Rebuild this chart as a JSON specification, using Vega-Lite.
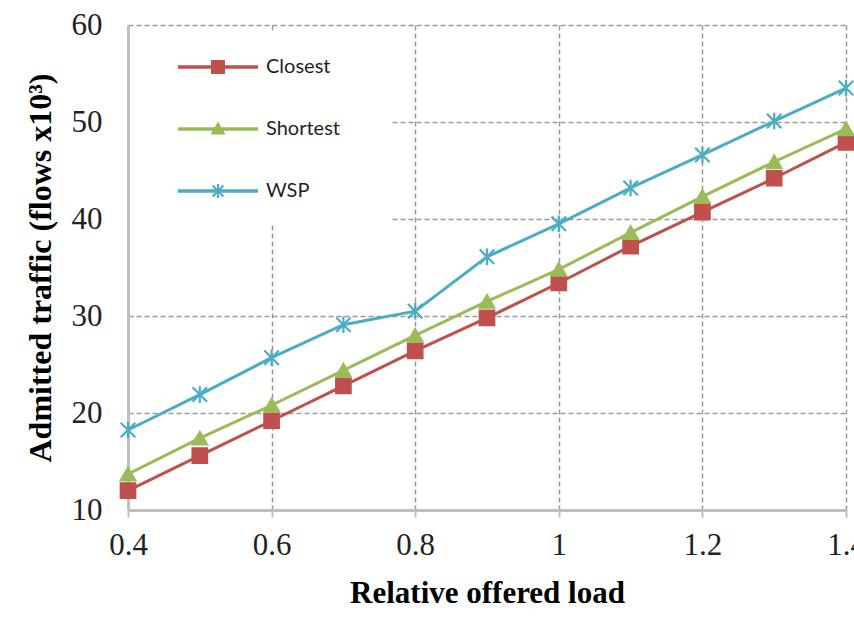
{
  "$schema": "https://vega.github.io/schema/vega-lite/v6.json",
  "width": 718,
  "height": 485,
  "autosize": {"type": "none"},
  "padding": {"left": 128, "top": 25, "right": 8, "bottom": 109},
  "background": "white",
  "config": {"view": {"stroke": null}},
  "data": {
    "values": [
      {"load": 0.4, "series": "Closest", "traffic": 12.0},
      {"load": 0.5, "series": "Closest", "traffic": 15.6},
      {"load": 0.6, "series": "Closest", "traffic": 19.2},
      {"load": 0.7, "series": "Closest", "traffic": 22.8},
      {"load": 0.8, "series": "Closest", "traffic": 26.4},
      {"load": 0.9, "series": "Closest", "traffic": 29.8},
      {"load": 1.0, "series": "Closest", "traffic": 33.4},
      {"load": 1.1, "series": "Closest", "traffic": 37.2},
      {"load": 1.2, "series": "Closest", "traffic": 40.7},
      {"load": 1.3, "series": "Closest", "traffic": 44.2},
      {"load": 1.4, "series": "Closest", "traffic": 47.9},
      {"load": 0.4, "series": "Shortest", "traffic": 13.7},
      {"load": 0.5, "series": "Shortest", "traffic": 17.4},
      {"load": 0.6, "series": "Shortest", "traffic": 20.8},
      {"load": 0.7, "series": "Shortest", "traffic": 24.4},
      {"load": 0.8, "series": "Shortest", "traffic": 28.0},
      {"load": 0.9, "series": "Shortest", "traffic": 31.5},
      {"load": 1.0, "series": "Shortest", "traffic": 34.8},
      {"load": 1.1, "series": "Shortest", "traffic": 38.6},
      {"load": 1.2, "series": "Shortest", "traffic": 42.3},
      {"load": 1.3, "series": "Shortest", "traffic": 45.9},
      {"load": 1.4, "series": "Shortest", "traffic": 49.3},
      {"load": 0.4, "series": "WSP", "traffic": 18.25},
      {"load": 0.5, "series": "WSP", "traffic": 21.9},
      {"load": 0.6, "series": "WSP", "traffic": 25.7},
      {"load": 0.7, "series": "WSP", "traffic": 29.1},
      {"load": 0.8, "series": "WSP", "traffic": 30.5},
      {"load": 0.9, "series": "WSP", "traffic": 36.1},
      {"load": 1.0, "series": "WSP", "traffic": 39.5},
      {"load": 1.1, "series": "WSP", "traffic": 43.2},
      {"load": 1.2, "series": "WSP", "traffic": 46.6},
      {"load": 1.3, "series": "WSP", "traffic": 50.1},
      {"load": 1.4, "series": "WSP", "traffic": 53.5}
    ]
  },
  "encoding": {
    "x": {
      "field": "load",
      "type": "quantitative",
      "scale": {"domain": [0.4, 1.4], "nice": false, "zero": false},
      "axis": {
        "values": [0.4, 0.6, 0.8, 1, 1.2, 1.4],
        "format": "~g",
        "title": "Relative offered load",
        "titleFont": "Liberation Serif",
        "titleFontSize": 31,
        "titleFontWeight": "bold",
        "titleColor": "black",
        "titlePadding": 18,
        "labelFont": "Liberation Serif",
        "labelFontSize": 31,
        "labelColor": "#222222",
        "labelPadding": 13,
        "labelFlush": false,
        "labelOverlap": false,
        "labelBound": false,
        "tickSize": 7,
        "tickColor": "#bfbfbf",
        "tickWidth": 2,
        "domainColor": "#bfbfbf",
        "domainWidth": 3,
        "gridColor": "#9a9a9a",
        "gridDash": [5, 3],
        "gridWidth": 1.5
      }
    },
    "y": {
      "field": "traffic",
      "type": "quantitative",
      "scale": {"domain": [10, 60], "nice": false, "zero": false},
      "axis": {
        "values": [10, 20, 30, 40, 50, 60],
        "title": "Admitted traffic (flows x10³)",
        "titleFont": "Liberation Serif",
        "titleFontSize": 32,
        "titleFontWeight": "bold",
        "titleColor": "black",
        "titlePadding": 14,
        "labelFont": "Liberation Serif",
        "labelFontSize": 31,
        "labelColor": "#222222",
        "labelPadding": 26,
        "labelFlush": false,
        "labelOverlap": false,
        "labelBound": false,
        "ticks": false,
        "domainColor": "#bfbfbf",
        "domainWidth": 3,
        "gridColor": "#9a9a9a",
        "gridDash": [5, 3],
        "gridWidth": 1.5
      }
    },
    "color": {
      "field": "series",
      "type": "nominal",
      "scale": {"domain": ["Closest", "Shortest", "WSP"], "range": ["#C0504D", "#9BBB59", "#4BACC6"]},
      "legend": {
        "orient": "none",
        "legendX": 2,
        "legendY": 8,
        "title": null,
        "fillColor": "white",
        "padding": 24,
        "symbolSize": 400,
        "symbolStrokeWidth": 0,
        "symbolOpacity": 1,
        "labelFont": "Lato",
        "labelFontSize": 20,
        "labelColor": "#1f1f1f",
        "labelOffset": 92,
        "rowPadding": 42
      }
    }
  },
  "layer": [
    {
      "mark": {"type": "line", "strokeWidth": 3}
    },
    {
      "mark": {"type": "point", "filled": true, "opacity": 1, "strokeWidth": 2.2, "size": 210},
      "encoding": {
        "stroke": {
          "field": "series",
          "type": "nominal",
          "scale": {"domain": ["Closest", "Shortest", "WSP"], "range": ["#C0504D", "#9BBB59", "#4BACC6"]},
          "legend": null
        },
        "shape": {
          "condition": [
            {"test": "datum.series === 'Closest'", "value": "square"},
            {"test": "datum.series === 'Shortest'", "value": "triangle-up"}
          ],
          "value": "M-1,-1L1,1M-1,1L1,-1M0,-1.15L0,1.15"
        }
      }
    },
    {
      "transform": [{"filter": "false"}],
      "mark": {"type": "point", "filled": true, "opacity": 1, "strokeWidth": 0},
      "encoding": {
        "shape": {
          "field": "series",
          "type": "nominal",
          "scale": {
            "domain": ["Closest", "Shortest", "WSP"],
            "range": [
              "M-1,0 M20.3,0 M1.4,-0.17H9.4V0.17H1.4Z M4.7,-0.7H6.1V0.7H4.7Z",
              "M-1,0 M20.3,0 M1.4,-0.17H9.4V0.17H1.4Z M5.4,-0.75L6.15,0.55H4.65Z",
              "M-1,0 M20.3,0 M1.4,-0.17H9.4V0.17H1.4Z M4.92,-0.62L6.02,0.48L5.88,0.62L4.78,-0.48Z M4.92,0.62L4.78,0.48L5.88,-0.62L6.02,-0.48Z M5.3,-0.7H5.5V0.7H5.3Z"
            ]
          }
        }
      }
    }
  ]
}
